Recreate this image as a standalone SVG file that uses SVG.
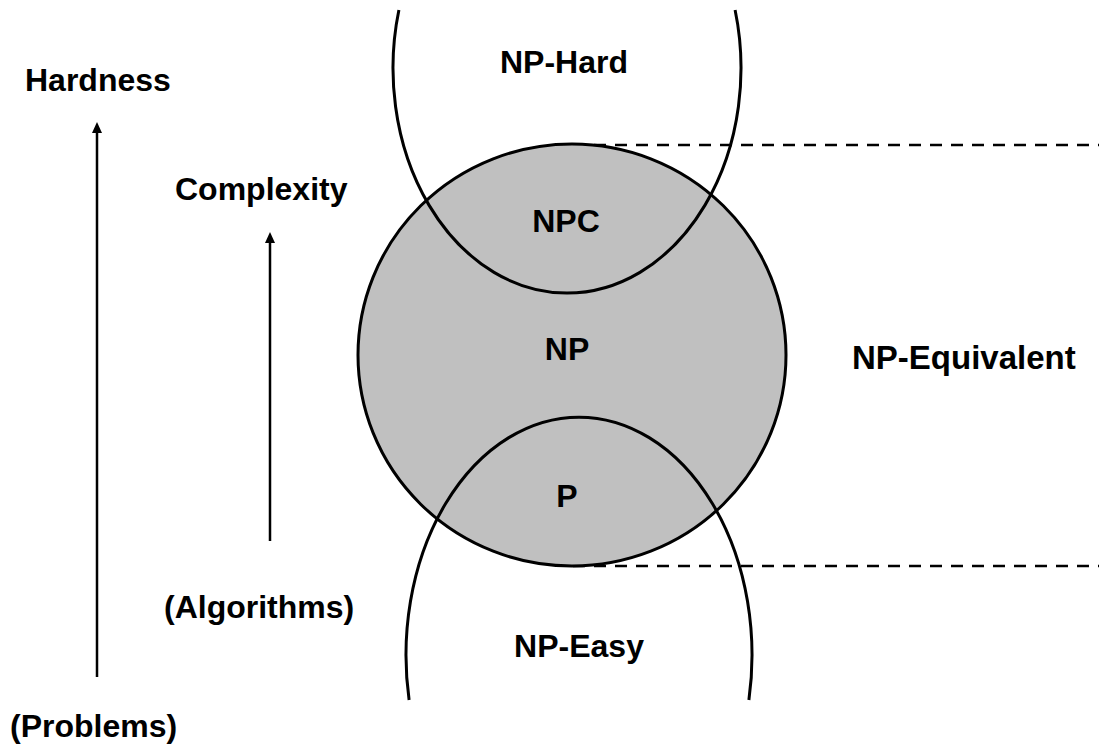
<svg xmlns="http://www.w3.org/2000/svg" width="1099" height="749" viewBox="0 0 1099 749">
  <style>
    .lbl { font-family: "Liberation Sans", Arial, sans-serif; font-weight: bold; font-size: 32px; fill: #000; }
    .mid { text-anchor: middle; }
    .ring { fill: none; stroke: #000; stroke-width: 3; }
    .dash { stroke: #000; stroke-width: 2.5; stroke-dasharray: 12 9; fill: none; }
    .axis { stroke: #000; stroke-width: 2.5; fill: none; }
  </style>
  <defs>
    <marker id="head" markerUnits="userSpaceOnUse" markerWidth="12" markerHeight="10" refX="3" refY="5" orient="auto">
      <path d="M0,0 L11,5 L0,10 z" fill="#000"/>
    </marker>
  </defs>
  <rect width="1099" height="749" fill="#fff"/>

  <!-- dashed bounds of the NP-equivalent band, plus the two scale arrows -->
  <g id="connectors">
    <line class="dash" x1="573" y1="145" x2="1099" y2="145"/>
    <line class="dash" x1="573" y1="566" x2="1099" y2="566"/>
    <line class="axis" x1="97" y1="677" x2="97" y2="130" marker-end="url(#head)"/>
    <line class="axis" x1="270" y1="541" x2="270" y2="240" marker-end="url(#head)"/>
  </g>

  <!-- NP: filled circle -->
  <g id="np">
    <ellipse cx="572" cy="355" rx="214" ry="211" fill="#c0c0c0" stroke="#000" stroke-width="3"/>
    <text class="lbl mid" x="567" y="360">NP</text>
  </g>

  <!-- NP-Hard: open ring cut at the top edge -->
  <g id="np-hard">
    <path class="ring" d="M398.9,10 A174,225 0 1 0 735.1,10"/>
    <text class="lbl mid" x="564" y="73">NP-Hard</text>
  </g>

  <g id="npc">
    <text class="lbl mid" x="566" y="232">NPC</text>
  </g>

  <!-- NP-Easy: open ring cut at the bottom -->
  <g id="np-easy">
    <path class="ring" d="M409.1,700 A173,238 0 1 1 748.9,700"/>
    <text class="lbl mid" x="579" y="657">NP-Easy</text>
  </g>

  <g id="p">
    <text class="lbl mid" x="567" y="507">P</text>
  </g>

  <g id="np-equivalent">
    <text class="lbl" x="852" y="369" style="font-size:33px">NP-Equivalent</text>
  </g>

  <g id="hardness">
    <text class="lbl" x="25" y="91">Hardness</text>
  </g>
  <g id="problems">
    <text class="lbl" x="10" y="737">(Problems)</text>
  </g>
  <g id="complexity">
    <text class="lbl" x="175" y="200">Complexity</text>
  </g>
  <g id="algorithms">
    <text class="lbl" x="164" y="618">(Algorithms)</text>
  </g>
</svg>
